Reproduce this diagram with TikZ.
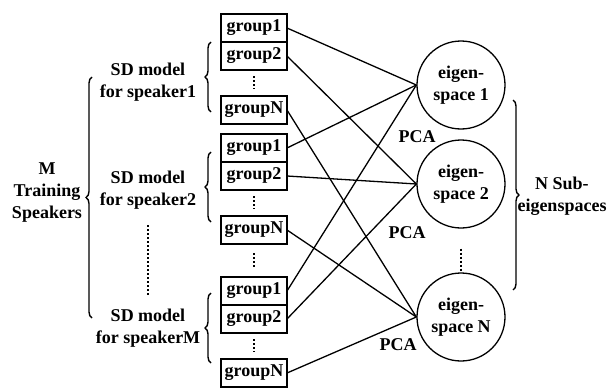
\documentclass[tikz,border=0pt]{standalone}
\usepackage{fontspec}
\setmainfont{Liberation Serif}
\usetikzlibrary{positioning, decorations.pathreplacing}

\begin{document}
\begin{tikzpicture}[x=1pt, y=-1pt,
    grp/.style={draw, line width=1.4pt, minimum width=66pt, minimum height=28pt, inner sep=1pt, outer sep=0pt, font=\fontsize{18}{21}\selectfont\bfseries},
    eig/.style={draw, circle, line width=1.3pt, minimum size=88pt, inner sep=0pt, align=center, font=\fontsize{18}{22}\selectfont\bfseries},
    lbl/.style={align=center, inner sep=0pt, font=\fontsize{18}{22}\selectfont\bfseries},
    vdots/.style={line width=1.5pt, dash pattern=on 2pt off 2pt},
    brc/.style={decorate, decoration={brace, amplitude=6pt}, line width=1.4pt},
    link/.style={line width=1.3pt}]
  \useasboundingbox (0,0) rectangle (608,388);
  % speaker models with their groups
  \foreach \s/\y in {1/28, 2/148, M/291} {
    \node[grp] (g\s 1) at (254,\y) {group1};
    \node[grp] (g\s 2) at (254,\y+28) {group2};
    \node[grp] (g\s N) at (254,\y+82) {groupN};
    \draw[vdots, shorten <=6pt, shorten >=7pt] (g\s 2.south) -- (g\s N.north);
  }
  \draw[vdots, shorten <=9pt, shorten >=10pt] (g2N.south) -- (gM1.north);
  \node[lbl] (sd1) at (148,82) {SD model\\for speaker1};
  \node[lbl] (sd2) at (148,190) {SD model\\for speaker2};
  \node[lbl] (sdM) at (148,328) {SD model\\for speakerM};
  \draw[vdots, shorten <=16pt, shorten >=14pt] (sd2.south) -- (sdM.north);
  \draw[brc] (211,112) -- (211,42);
  \draw[brc] (211,222) -- (211,152);
  \draw[brc] (211,363) -- (211,293);
  \node[lbl] (spk) at (47,193) {M\\Training\\Speakers};
  \draw[brc] (92,318) -- (92,77);
  % eigenspaces
  \node[eig] (e1) at (461,85) {eigen-\\space 1};
  \node[eig] (e2) at (461,184) {eigen-\\space 2};
  \node[eig] (eN) at (461,317) {eigen-\\space N};
  \draw[vdots, shorten <=20pt, shorten >=1pt] (e2.south) -- (eN.north);
  \draw[brc] (513,100) -- (513,290);
  \node[lbl] (sub) at (562,196) {N Sub-\\eigenspaces};
  \foreach \s in {1,2,M} {
    \draw[link] (g\s 1.east) -- (e1.west);
    \draw[link] (g\s 2.east) -- (e2.west);
    \draw[link] (g\s N.east) -- (eN.west);
  }
  \node[lbl] (pca1) at (417,137) {PCA};
  \node[lbl] (pca2) at (407,233) {PCA};
  \node[lbl] (pcaN) at (398,345) {PCA};
\end{tikzpicture}
\end{document}
